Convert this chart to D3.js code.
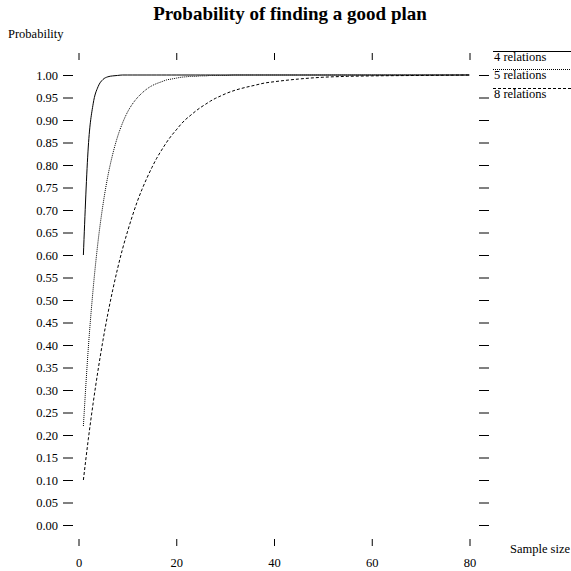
<!DOCTYPE html>
<html>
<head>
<meta charset="utf-8">
<script src="https://cdn.jsdelivr.net/npm/d3@7"></script>
<style>
  html, body { margin: 0; padding: 0; background: #fff; }
  svg { display: block; }
  text { font-family: "Liberation Serif", "Times New Roman", serif; fill: #000; }
</style>
</head>
<body>
<svg id="chart" width="571" height="571"></svg>
<script>
// ---- data ----
const sampleSizes = [1,2,3,4,5,6,7,8,9,10,11,12,13,14,15,16,17,18,19,20,21,22,23,24,25,26,27,28,29,30,32,34,36,38,40,45,50,55,60,70,80];
const rel4 = [0.600,0.840,0.936,0.974,0.990,0.996,0.998,0.999,1.000,1.000,1.000,1.000,1.000,1.000,1.000,1.000,1.000,1.000,1.000,1.000,1.000,1.000,1.000,1.000,1.000,1.000,1.000,1.000,1.000,1.000,1.000,1.000,1.000,1.000,1.000,1.000,1.000,1.000,1.000,1.000,1.000];
const rel5 = [0.220,0.392,0.525,0.630,0.711,0.775,0.824,0.863,0.893,0.917,0.935,0.949,0.960,0.969,0.976,0.981,0.985,0.989,0.991,0.993,0.995,0.996,0.997,0.997,0.998,0.998,0.999,0.999,0.999,0.999,1.000,1.000,1.000,1.000,1.000,1.000,1.000,1.000,1.000,1.000,1.000];
const rel8 = [0.100,0.190,0.271,0.344,0.410,0.469,0.522,0.570,0.613,0.651,0.686,0.718,0.746,0.771,0.794,0.815,0.833,0.850,0.865,0.878,0.891,0.902,0.911,0.920,0.928,0.935,0.942,0.948,0.953,0.958,0.966,0.972,0.977,0.982,0.985,0.991,0.995,0.997,0.998,0.999,1.000];
const seriesNames = ["4 relations", "5 relations", "8 relations"];
const xTicks = [0, 20, 40, 60, 80];
const yTicks = [0.00,0.05,0.10,0.15,0.20,0.25,0.30,0.35,0.40,0.45,0.50,0.55,0.60,0.65,0.70,0.75,0.80,0.85,0.90,0.95,1.00];

const seriesValues = [rel4, rel5, rel8];
const dashes = [null, "1,1", "3,2"];

const svg = d3.select("#chart");
const x = d3.scaleLinear().domain([0, 80]).range([78.5, 469.5]);
const y = d3.scaleLinear().domain([0, 1]).range([525, 75]);

// title
svg.append("text").attr("x", 290).attr("y", 20).attr("text-anchor", "middle")
  .style("font-size", "19px").style("font-weight", "bold").text("Probability of finding a good plan");
svg.append("text").attr("x", 8).attr("y", 38).style("font-size", "12.5px").text("Probability");
svg.append("text").attr("x", 510).attr("y", 553).style("font-size", "12.5px").text("Sample size");

function styleAxis(g) {
  g.select(".domain").remove();
  g.selectAll(".tick line").attr("stroke", "#000").attr("stroke-width", 1);
  g.selectAll(".tick text").style("font-family", "'Liberation Serif', serif").style("font-size", "12.5px").attr("fill", "#000");
}

// left axis
svg.append("g").attr("transform", "translate(73,0)")
  .call(d3.axisLeft(y).tickValues(yTicks).tickFormat(d3.format(".2f")).tickSize(10).tickPadding(5))
  .call(styleAxis);
// right axis
svg.append("g").attr("transform", "translate(479,0)")
  .call(d3.axisRight(y).tickValues(yTicks).tickFormat("").tickSize(10))
  .call(styleAxis);
// top axis
svg.append("g").attr("transform", "translate(0,60)")
  .call(d3.axisTop(x).tickValues(xTicks).tickFormat("").tickSize(7))
  .call(styleAxis);
// bottom axis
svg.append("g").attr("transform", "translate(0,539)")
  .call(d3.axisBottom(x).tickValues(xTicks).tickFormat(d3.format("d")).tickSize(7).tickPadding(12))
  .call(styleAxis);

// lines
const line = d3.line().x((d, i) => x(sampleSizes[i])).y(d => y(d)).curve(d3.curveMonotoneX);
seriesValues.forEach((vals, k) => {
  svg.append("path").datum(vals).attr("d", line)
    .attr("fill", "none").attr("stroke", "#000").attr("stroke-width", 1)
    .attr("stroke-dasharray", dashes[k]);
});

// legend
const legY = [51, 69, 88];
seriesNames.forEach((name, k) => {
  svg.append("line").attr("x1", 493).attr("x2", 571).attr("y1", legY[k] + 0.5).attr("y2", legY[k] + 0.5)
    .attr("stroke", "#000").attr("stroke-width", 1).attr("stroke-dasharray", dashes[k]);
  svg.append("text").attr("x", 494).attr("y", legY[k] + 10).style("font-size", "12.5px").text(name);
});
</script>
</body>
</html>
